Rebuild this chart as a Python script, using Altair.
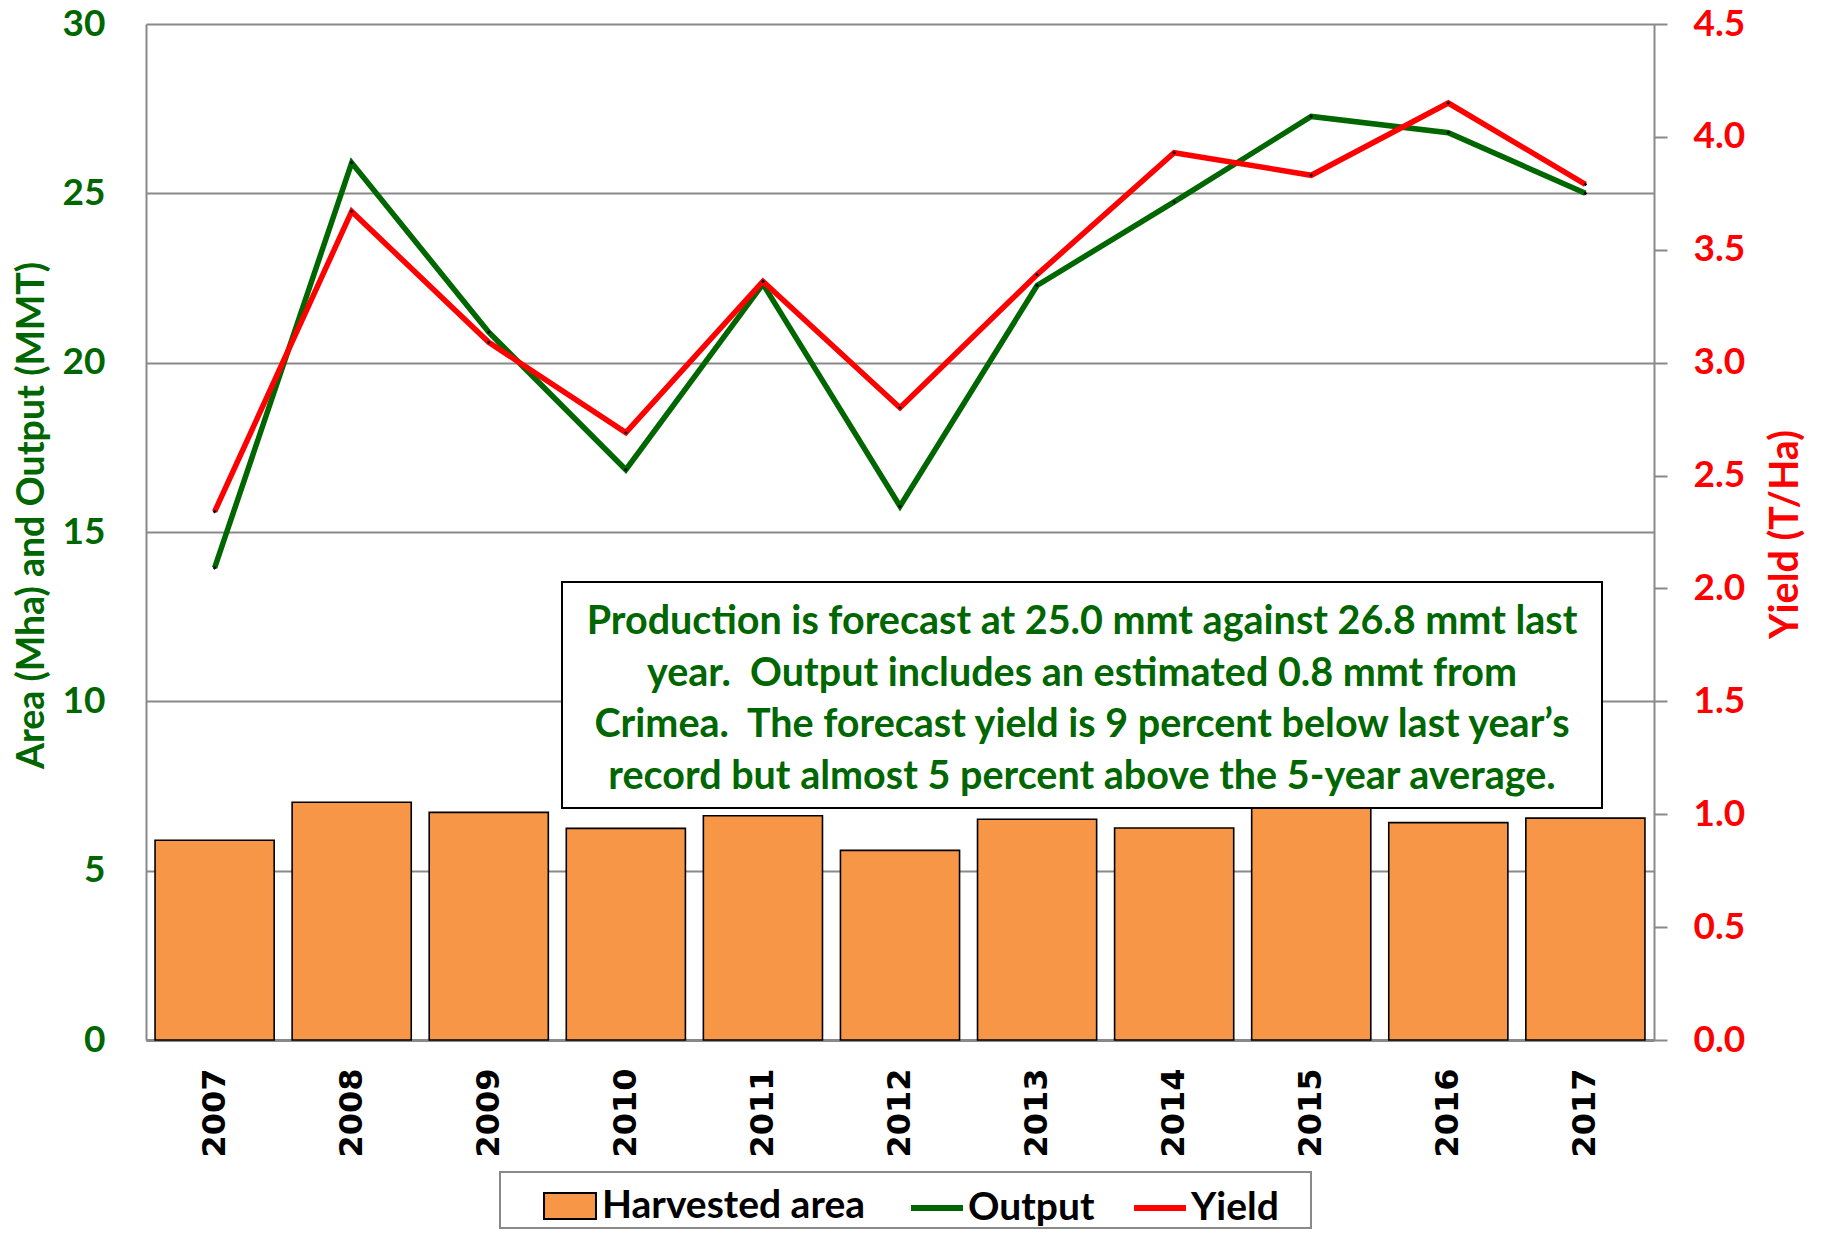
import altair as alt
import pandas as pd

years = ["2007", "2008", "2009", "2010", "2011", "2012", "2013", "2014", "2015", "2016", "2017"]
area = [5.90, 7.02, 6.72, 6.25, 6.62, 5.60, 6.52, 6.26, 7.12, 6.42, 6.55]
output = [13.94, 25.90, 20.90, 16.84, 22.32, 15.76, 22.28, 24.75, 27.27, 26.79, 25.00]
yield_ = [2.34, 3.67, 3.09, 2.69, 3.36, 2.80, 3.39, 3.93, 3.83, 4.15, 3.79]

bar_names = ["Harvested area"]
bar_colors = ["#F79646"]
line_names = ["Output", "Yield"]
line_colors = ["#006600", "#FF0000"]
left_ticks = [0, 5, 10, 15, 20, 25, 30]
right_ticks = [0, 0.5, 1.0, 1.5, 2.0, 2.5, 3.0, 3.5, 4.0, 4.5]

note_lines = [
    "Production is forecast at 25.0 mmt against 26.8 mmt last",
    "year. \u00a0Output includes an estimated 0.8 mmt from",
    "Crimea. \u00a0The forecast yield is 9 percent below last year\u2019s",
    "record but almost 5 percent above the 5-year average.",
]

df = pd.DataFrame({"year": years, "area": area, "output": output, "yield": yield_})
one = pd.DataFrame({"k": [0]})

GREEN = "#006600"
RED = "#FF0000"
GRID = "#898989"

xenc = alt.X(
    "year:N",
    scale=alt.Scale(paddingInner=0.131, paddingOuter=0.066),
    axis=alt.Axis(
        title=None, labelAngle=-90, labelFont="DejaVu Sans", labelFontWeight="bold",
        labelFontSize=32, labelColor="black", labelPadding=28, ticks=False,
        domainColor=GRID, domainWidth=3,
    ),
)

leg_common = dict(
    orient="none", direction="horizontal", title=None,
    labelFont="Lato", labelFontWeight="bold", labelFontSize=39, labelColor="black",
    columnPadding=27, symbolSize=2700, padding=0, symbolOpacity=1,
    labelLimit=500,
)
fill_enc = alt.Fill(
    "series:N", scale=alt.Scale(domain=bar_names, range=bar_colors),
    legend=alt.Legend(legendX=397, legendY=1155, symbolType="M-1,-0.5H1V0.5H-1Z",
                      symbolStrokeColor="black", symbolStrokeWidth=2, labelOffset=5,
                      **leg_common),
)
stroke_enc = lambda: alt.Stroke(
    "series:N", scale=alt.Scale(domain=line_names, range=line_colors),
    legend=alt.Legend(legendX=762, legendY=1155, symbolType="stroke",
                      symbolStrokeWidth=6, labelOffset=2, **leg_common),
)

left_scale = alt.Scale(domain=[0, 30])
left_axis = alt.Axis(
    title="Area (Mha) and Output (MMT)", titleColor=GREEN, titleFont="Lato",
    titleFontSize=37.5, titleFontWeight="bold", titleAngle=-90, titleX=-114, titleY=491,
    titleAlign="center", titleBaseline="middle",
    values=left_ticks, labelFont="Lato", labelFontSize=37, labelFontWeight="bold",
    labelColor=GREEN, labelPadding=41, ticks=False, grid=True, gridColor=GRID,
    gridWidth=2, domainColor=GRID, domainWidth=2,
)

bars = (
    alt.Chart(df)
    .transform_calculate(series="'Harvested area'")
    .mark_bar(stroke="black", strokeWidth=1.6, opacity=1)
    .encode(x=xenc, y=alt.Y("area:Q", scale=left_scale, axis=left_axis), fill=fill_enc)
)

out_line = (
    alt.Chart(df)
    .transform_calculate(series="'Output'")
    .mark_line(strokeWidth=5.5)
    .encode(x=xenc, y=alt.Y("output:Q", scale=left_scale), stroke=stroke_enc())
)
out_pts = (
    alt.Chart(df)
    .mark_point(shape="diamond", filled=True, color="black", size=14, opacity=1)
    .encode(x=xenc, y=alt.Y("output:Q", scale=left_scale))
)

box = alt.Chart(one).mark_rect(fill="white", stroke="black", strokeWidth=2).encode(
    x=alt.value(416), x2=alt.value(1456), y=alt.value(558), y2=alt.value(784)
)
note = alt.Chart(one).mark_text(
    text=note_lines, font="Lato", fontSize=39.5, fontWeight="bold", color=GREEN,
    align="center", baseline="alphabetic", lineHeight=51.7,
).encode(x=alt.value(936), y=alt.value(610))

legend_box = alt.Chart(one).mark_rect(fill="white", stroke=GRID, strokeWidth=2).encode(
    x=alt.value(354), x2=alt.value(1165), y=alt.value(1148), y2=alt.value(1204)
)

left = alt.layer(bars, box, note, legend_box, out_line, out_pts)

right_scale = alt.Scale(domain=[0, 4.5])
right_axis = alt.Axis(
    orient="right", title="Yield (T/Ha)", titleColor=RED, titleFont="Lato",
    titleFontSize=39.5, titleFontWeight="bold", titleAngle=-90, titleX=131, titleY=510,
    titleAlign="center", titleBaseline="middle",
    values=right_ticks, format=".1f", labelFont="Lato", labelFontSize=37,
    labelFontWeight="bold", labelColor=RED, labelPadding=26, ticks=True, tickSize=13,
    tickColor=GRID, tickWidth=2, grid=False, domainColor=GRID, domainWidth=2,
)
yld_line = (
    alt.Chart(df)
    .transform_calculate(series="'Yield'")
    .mark_line(strokeWidth=5.5)
    .encode(x=xenc, y=alt.Y("yield:Q", scale=right_scale, axis=right_axis), stroke=stroke_enc())
)
yld_pts = (
    alt.Chart(df)
    .mark_point(shape="diamond", filled=True, color="black", size=14, opacity=1)
    .encode(x=xenc, y=alt.Y("yield:Q", scale=right_scale))
)
right = alt.layer(yld_line, yld_pts)

chart = (
    alt.layer(left, right)
    .resolve_scale(y="independent")
    .properties(
        width=1508, height=1016,
        padding={"left": 138, "top": 16, "right": 154, "bottom": 190},
        autosize=alt.AutoSizeParams(type="none"),
    )
    .configure_view(stroke=GRID, strokeWidth=2)
    .configure(background="white")
)

chart.save("out.html", embed_options={"renderer": "svg", "actions": False})
